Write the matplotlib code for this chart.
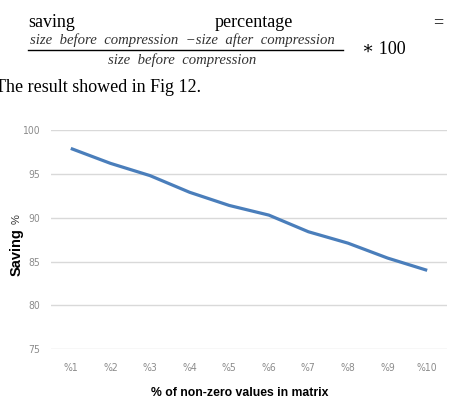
import matplotlib
matplotlib.use("Agg")
import matplotlib.pyplot as plt
from matplotlib.lines import Line2D

categories = ["%1", "%2", "%3", "%4", "%5", "%6", "%7", "%8", "%9", "%10"]
saving = [97.9, 96.2, 94.8, 92.9, 91.4, 90.3, 88.4, 87.1, 85.4, 84.0]
yticks = [75, 80, 85, 90, 95, 100]

W, H = 449, 404
fig = plt.figure(figsize=(W / 100, H / 100), dpi=100)
fig.patch.set_facecolor("white")

def fx(px):
    return px / W

def fy(py):
    return 1 - py / H

serif = ["Liberation Serif", "DejaVu Serif"]

# Paper text above the chart
fig.text(fx(28), fy(27), "saving", family=serif, fontsize=13, va="baseline", ha="left")
fig.text(fx(254), fy(27), "percentage", family=serif, fontsize=13, va="baseline", ha="center")
fig.text(fx(443), fy(27), "=", family=serif, fontsize=13, va="baseline", ha="right")
fig.text(fx(182), fy(40), "size  before  compression  \u2212size  after  compression",
         family=serif, style="italic", fontsize=10.6, va="center", ha="center", color="#333333")
fig.add_artist(Line2D([fx(28), fx(343)], [fy(49.5), fy(49.5)], color="black", lw=1.0,
                      transform=fig.transFigure))
fig.text(fx(182), fy(60), "size  before  compression",
         family=serif, style="italic", fontsize=10.6, va="center", ha="center", color="#333333")
fig.text(fx(362), fy(49), "\u2217 100", family=serif, fontsize=13, va="center", ha="left")
fig.text(fx(-5), fy(87), "The result showed in Fig 12.", family=serif, fontsize=13,
         va="center", ha="left")

# Chart
ax = fig.add_axes([fx(51), fy(349.3), fx(447) - fx(51), (349.3 - 130) / H])
x = list(range(len(categories)))
ax.plot(x, saving, color="#4a7ebb", lw=2.3, solid_joinstyle="round", solid_capstyle="butt")
ax.set_xlim(-0.5, len(categories) - 0.5)
ax.set_ylim(75, 100)
ax.set_yticks(yticks)
ax.set_yticklabels([str(v) for v in yticks])
ax.set_xticks(x)
ax.set_xticklabels(categories)
ax.grid(axis="y", color="#d9d9d9", lw=1.0)
ax.set_axisbelow(True)
for s in ax.spines.values():
    s.set_visible(False)
ax.tick_params(axis="both", length=0, labelsize=7.5, labelcolor="#8c8c8c")
ax.tick_params(axis="y", pad=8)
ax.tick_params(axis="x", pad=10)
for lab in ax.get_xticklabels() + ax.get_yticklabels():
    lab.set_family(["DejaVu Sans"])
    lab.set_stretch("condensed")

fig.text(fx(240), fy(393), "% of non-zero values in matrix", family=["Liberation Sans"],
         fontweight="bold", fontsize=8.8, ha="center", va="center", color="black")
fig.text(fx(17), fy(252), "Saving", family=["Liberation Sans"], fontweight="bold",
         fontsize=10.5, ha="center", va="center", rotation=90, color="black")
fig.text(fx(17), fy(219), "%", family=["Liberation Sans"], fontweight="normal",
         fontsize=8, ha="center", va="center", rotation=90, color="#333333")

fig.savefig("out.png", dpi=100, facecolor="white")
